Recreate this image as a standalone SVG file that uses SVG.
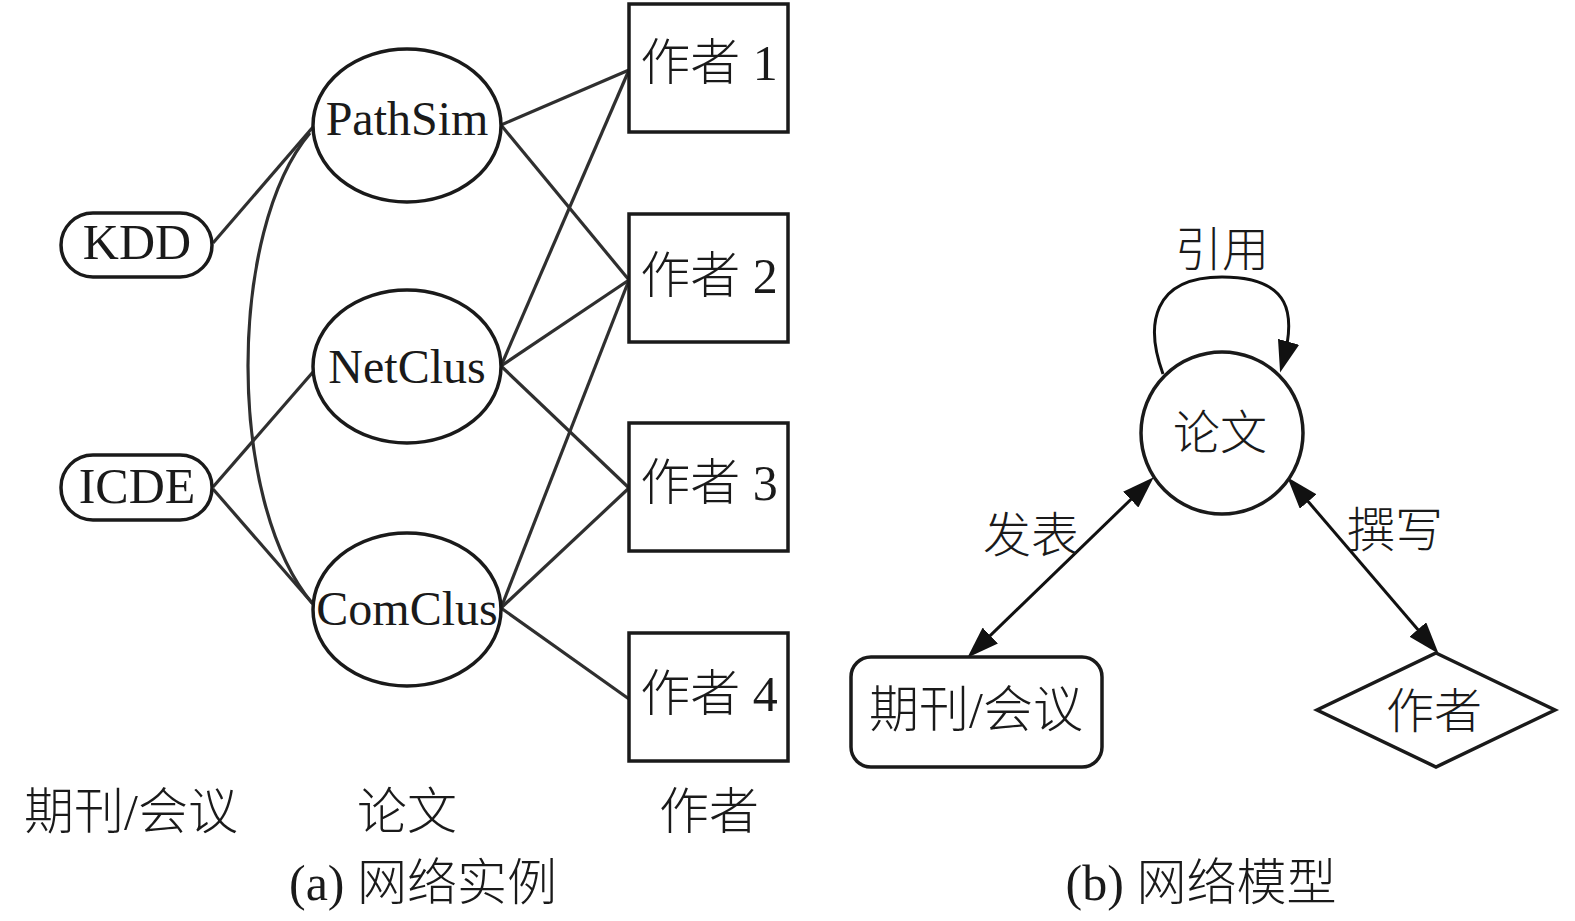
<svg xmlns="http://www.w3.org/2000/svg" width="1575" height="921" viewBox="0 0 1575 921">
<style>
text{font-family:"Liberation Serif","Noto Sans CJK SC",serif;fill:#1a1a1a;text-anchor:middle;font-weight:300}
.t48{font-size:48px}
.t50{font-size:50px}
.t46{font-size:47px}
.node{fill:#fff;stroke:#1a1a1a;stroke-width:3.5}
.edge{fill:none;stroke:#2f2f2f;stroke-width:3.2}
.arr{fill:none;stroke:#111;stroke-width:3}
</style>
<defs>
<marker id="ah" viewBox="0 0 32 22" refX="21" refY="11" markerWidth="32" markerHeight="22" markerUnits="userSpaceOnUse" orient="auto-start-reverse">
<path d="M0,0 L32,11 L0,22 z" fill="#111"/>
</marker>
</defs>
<rect width="1575" height="921" fill="#fff"/>

<g id="connectors">
<line class="edge" x1="213" y1="243" x2="313" y2="127"/>
<line class="edge" x1="213" y1="487" x2="313" y2="372"/>
<line class="edge" x1="213" y1="489" x2="313" y2="604"/>
<path class="edge" d="M310,133 C228,230 226,500 312,603"/>
<line class="edge" x1="501" y1="125" x2="629" y2="70"/>
<line class="edge" x1="501" y1="125" x2="629" y2="280"/>
<line class="edge" x1="501" y1="366" x2="629" y2="70"/>
<line class="edge" x1="501" y1="366" x2="629" y2="280"/>
<line class="edge" x1="501" y1="366" x2="629" y2="488"/>
<line class="edge" x1="501" y1="608" x2="629" y2="280"/>
<line class="edge" x1="501" y1="608" x2="629" y2="488"/>
<line class="edge" x1="501" y1="608" x2="629" y2="699"/>
<path class="arr" d="M1163,374 C1145,325 1152,277 1222,277 C1292,277 1296,315 1283,362" marker-end="url(#ah)"/>
<line class="arr" x1="1145.8" y1="485" x2="975.2" y2="650.1" marker-start="url(#ah)" marker-end="url(#ah)"/>
<line class="arr" x1="1294.5" y1="485.6" x2="1431.5" y2="645.4" marker-start="url(#ah)" marker-end="url(#ah)"/>
</g>

<g id="kdd"><rect class="node" x="61" y="213" width="151" height="64" rx="32"/><text class="t50" x="137" y="259">KDD</text></g>
<g id="icde"><rect class="node" x="61" y="455" width="151" height="65" rx="32"/><text class="t50" x="137" y="503">ICDE</text></g>

<g id="pathsim"><ellipse class="node" cx="407" cy="125.5" rx="94" ry="76.5"/><text class="t48" x="407" y="135">PathSim</text></g>
<g id="netclus"><ellipse class="node" cx="407" cy="366.5" rx="94" ry="76.5"/><text class="t48" x="407" y="383">NetClus</text></g>
<g id="comclus"><ellipse class="node" cx="407" cy="609.5" rx="94" ry="76.5"/><text class="t48" x="407" y="625">ComClus</text></g>

<g id="author1"><rect class="node" x="629" y="4" width="159" height="128"/><text class="t50" x="709" y="80">作者 1</text></g>
<g id="author2"><rect class="node" x="629" y="214" width="159" height="128"/><text class="t50" x="709" y="293">作者 2</text></g>
<g id="author3"><rect class="node" x="629" y="423" width="159" height="128"/><text class="t50" x="709" y="500">作者 3</text></g>
<g id="author4"><rect class="node" x="629" y="633" width="159" height="128"/><text class="t50" x="709" y="711">作者 4</text></g>

<g id="labels-a">
<text class="t50" x="131" y="829">期刊/会议</text>
<text class="t50" x="407" y="829">论文</text>
<text class="t50" x="709" y="829">作者</text>
<text class="t50" x="423" y="900">(a) 网络实例</text>
</g>

<g id="paper"><circle class="node" cx="1222" cy="433" r="81"/><text class="t46" x="1220" y="449">论文</text></g>
<g id="venue"><rect class="node" x="851" y="657" width="251" height="110" rx="20"/><text class="t50" x="976" y="727">期刊/会议</text></g>
<g id="author"><polygon class="node" points="1436,653 1555,710 1436,767 1317,710"/><text class="t48" x="1434" y="728">作者</text></g>

<g id="edge-labels">
<text class="t46" x="1222" y="266">引用</text>
<text class="t48" x="1031" y="552">发表</text>
<text class="t48" x="1395" y="547">撰写</text>
<text class="t50" x="1201" y="900">(b) 网络模型</text>
</g>
</svg>
